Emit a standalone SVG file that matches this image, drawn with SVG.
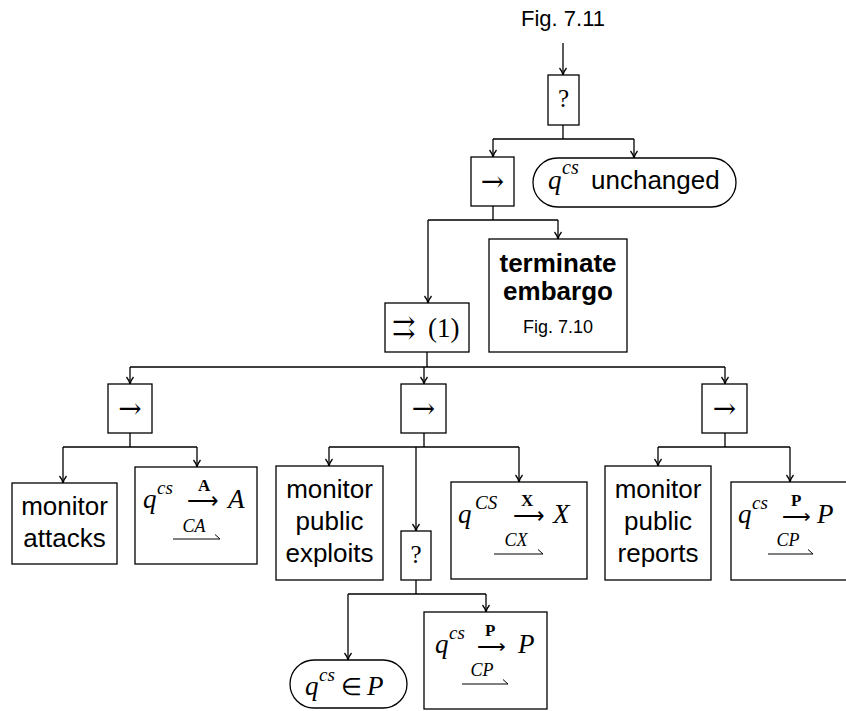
<svg xmlns="http://www.w3.org/2000/svg" width="846" height="711" viewBox="0 0 846 711">
<defs>
<marker id="ah" markerWidth="10" markerHeight="10" refX="8" refY="5" orient="auto" markerUnits="userSpaceOnUse">
<path d="M1,1.5 Q4,4 8,5 Q4,6 1,8.5" fill="none" stroke="#000" stroke-width="1.3"/>
</marker>
<style>
.box{fill:#fff;stroke:#000;stroke-width:1.3}
.c{fill:none;stroke:#000;stroke-width:1.3}
.a{fill:none;stroke:#000;stroke-width:1.3;marker-end:url(#ah)}
.h{fill:none;stroke:#000;stroke-width:1}
.s{font-family:"Liberation Sans",Arial,sans-serif;fill:#000}
.m{font-family:"Liberation Serif","Times New Roman",serif;fill:#000}
.ar{font-family:"DejaVu Serif","DejaVu Sans",serif;fill:#000}
.i{font-style:italic}
.b{font-weight:bold;font-style:normal}
.mid{text-anchor:middle}
</style>
</defs>
<rect width="846" height="711" fill="#fff"/>
<text class="s mid" x="563" y="26" font-size="22">Fig. 7.11</text>

<g id="connectors">
<path class="a" d="M563,43 V75"/>
<path class="c" d="M563,125 V139 M493,139 H634"/>
<path class="a" d="M493,139 V157"/>
<path class="a" d="M634,139 V158"/>
<path class="c" d="M493,206 V220 M428,220 H558"/>
<path class="a" d="M428,220 V303"/>
<path class="a" d="M558,220 V239"/>
<path class="c" d="M427,352 V367 M130,367 H725"/>
<path class="a" d="M130,367 V384"/>
<path class="a" d="M424,367 V384"/>
<path class="a" d="M725,367 V384"/>
<path class="c" d="M130,433 V447 M63,447 H197"/>
<path class="a" d="M63,447 V483"/>
<path class="a" d="M197,447 V467"/>
<path class="c" d="M424,433 V447 M329,447 H519"/>
<path class="a" d="M329,447 V466"/>
<path class="a" d="M416,447 V531"/>
<path class="a" d="M519,447 V482"/>
<path class="c" d="M725,433 V447 M658,447 H790"/>
<path class="a" d="M658,447 V466"/>
<path class="a" d="M790,447 V482"/>
<path class="c" d="M416,580 V594 M348,594 H486"/>
<path class="a" d="M348,594 V660"/>
<path class="a" d="M486,594 V612"/>
</g>

<g id="root">
<rect class="box" x="548" y="75" width="31" height="50"/>
<text class="m mid" x="563.5" y="107" font-size="25">?</text>
</g>

<g id="seq1">
<rect class="box" x="471" y="157" width="43" height="49"/>
<text class="ar mid" x="492.5" y="191" font-size="28">→</text>
</g>

<g id="unchanged">
<rect class="box" x="533" y="158" width="203" height="49" rx="24.5"/>
<text class="m i" x="548" y="189" font-size="27">q</text>
<text class="m i" x="562" y="174" font-size="20">cs</text>
<text class="s" x="591" y="189" font-size="26">unchanged</text>
</g>

<g id="terminate">
<rect class="box" x="489" y="239" width="138" height="113"/>
<text class="s mid" x="558" y="272" font-size="26" font-weight="bold">terminate</text>
<text class="s mid" x="558" y="300" font-size="26" font-weight="bold">embargo</text>
<text class="s mid" x="558" y="333" font-size="18">Fig. 7.10</text>
</g>

<g id="par">
<rect class="box" x="385" y="303" width="84" height="49"/>
<text class="ar" x="392" y="337" font-size="28">⇉</text>
<text class="m" x="428" y="337" font-size="27">(1)</text>
</g>

<g id="seqA">
<rect class="box" x="108" y="384" width="44" height="49"/>
<text class="ar mid" x="130" y="418" font-size="28">→</text>
</g>
<g id="seqX">
<rect class="box" x="401" y="384" width="45" height="49"/>
<text class="ar mid" x="423.5" y="418" font-size="28">→</text>
</g>
<g id="seqP">
<rect class="box" x="702" y="384" width="45" height="49"/>
<text class="ar mid" x="724.5" y="418" font-size="28">→</text>
</g>

<g id="monAttacks">
<rect class="box" x="12" y="483" width="105" height="81"/>
<text class="s mid" x="64.5" y="515" font-size="26">monitor</text>
<text class="s mid" x="64.5" y="547" font-size="26">attacks</text>
</g>

<g id="transA">
<rect class="box" x="135" y="467" width="122" height="97"/>
<text class="m i" x="143" y="508" font-size="27">q</text>
<text class="m i" x="157" y="494" font-size="19">cs</text>
<text class="m"><tspan class="b" x="198" y="491" font-size="17">A</tspan><tspan x="187" y="508" font-size="22">⟶</tspan></text>
<text class="m i" x="228" y="508" font-size="27">A</text>
<text class="m i mid" x="194" y="532" font-size="18">CA</text>
<path class="h" d="M173,539 H220 M215,534.5 L220,539"/>
</g>

<g id="monExploits">
<rect class="box" x="276" y="466" width="107" height="114"/>
<text class="s mid" x="329.5" y="498" font-size="26">monitor</text>
<text class="s mid" x="329.5" y="530" font-size="26">public</text>
<text class="s mid" x="329.5" y="562" font-size="26">exploits</text>
</g>

<g id="fallback2">
<rect class="box" x="401" y="531" width="30" height="49"/>
<text class="m mid" x="416" y="563" font-size="25">?</text>
</g>

<g id="transX">
<rect class="box" x="451" y="482" width="136" height="97"/>
<text class="m i" x="458" y="523" font-size="27">q</text>
<text class="m i" x="475" y="509" font-size="19">CS</text>
<text class="m"><tspan class="b" x="521" y="506" font-size="17">X</tspan><tspan x="513" y="523" font-size="22">⟶</tspan></text>
<text class="m i" x="553" y="523" font-size="27">X</text>
<text class="m i mid" x="516" y="546" font-size="18">CX</text>
<path class="h" d="M494,554 H543 M538,549.5 L543,554"/>
</g>

<g id="monReports">
<rect class="box" x="605" y="466" width="106" height="114"/>
<text class="s mid" x="658" y="498" font-size="26">monitor</text>
<text class="s mid" x="658" y="530" font-size="26">public</text>
<text class="s mid" x="658" y="562" font-size="26">reports</text>
</g>

<g id="transP1">
<rect class="box" x="731" y="482" width="118" height="98"/>
<text class="m i" x="738" y="523" font-size="27">q</text>
<text class="m i" x="752" y="509" font-size="19">cs</text>
<text class="m"><tspan class="b" x="791" y="506" font-size="17">P</tspan><tspan x="782" y="523" font-size="20">⟶</tspan></text>
<text class="m i" x="817" y="523" font-size="27">P</text>
<text class="m i mid" x="788" y="546" font-size="18">CP</text>
<path class="h" d="M768,554 H813 M808,549.5 L813,554"/>
</g>

<g id="inP">
<rect class="box" x="290" y="660" width="117" height="48" rx="24"/>
<text class="m i" x="305" y="695" font-size="27">q</text>
<text class="m i" x="319" y="681" font-size="19">cs</text>
<text class="m" x="341" y="695" font-size="24">∈</text>
<text class="m i" x="367" y="695" font-size="27">P</text>
</g>

<g id="transP2">
<rect class="box" x="424" y="612" width="123" height="97"/>
<text class="m i" x="435" y="653" font-size="27">q</text>
<text class="m i" x="449" y="639" font-size="19">cs</text>
<text class="m"><tspan class="b" x="485" y="636" font-size="17">P</tspan><tspan x="477" y="653" font-size="20">⟶</tspan></text>
<text class="m i" x="518" y="653" font-size="27">P</text>
<text class="m i mid" x="482" y="676" font-size="18">CP</text>
<path class="h" d="M462,684 H508 M503,679.5 L508,684"/>
</g>
</svg>
